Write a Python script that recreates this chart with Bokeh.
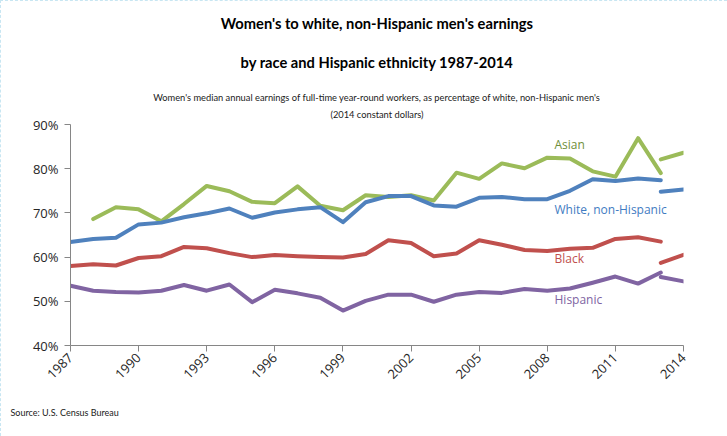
import math
from bokeh.plotting import figure
from bokeh.models import Label, FixedTicker, PrintfTickFormatter, Range1d, Title
from bokeh.embed import file_html
from bokeh.resources import INLINE

# ---- data ----
years = list(range(1987, 2014))            # 1987..2013 (old survey method)
years_new = [2013, 2014]                   # redesigned survey
asian = [None, 68.6, 71.3, 70.8, 68.1, 72.0, 76.1, 74.9, 72.5, 72.2, 76.0, 71.6, 70.6,
         74.0, 73.6, 74.0, 72.8, 79.1, 77.7, 81.2, 80.1, 82.5, 82.3, 79.4, 78.2, 86.9, 79.0]
white = [63.4, 64.1, 64.4, 67.4, 67.8, 69.0, 69.9, 71.0, 68.9, 70.1, 70.8, 71.3, 67.9,
         72.4, 73.8, 73.8, 71.7, 71.4, 73.4, 73.6, 73.1, 73.1, 75.0, 77.6, 77.2, 77.8, 77.4]
black = [58.0, 58.4, 58.1, 59.8, 60.2, 62.3, 62.0, 60.9, 60.0, 60.5, 60.2, 60.0, 59.9,
         60.7, 63.8, 63.2, 60.2, 60.8, 63.8, 62.8, 61.6, 61.4, 61.9, 62.1, 64.1, 64.5, 63.5]
hispanic = [53.5, 52.4, 52.1, 52.0, 52.4, 53.7, 52.4, 53.8, 49.8, 52.6, 51.8, 50.8, 47.9,
            50.1, 51.5, 51.5, 49.9, 51.5, 52.1, 51.9, 52.8, 52.4, 52.9, 54.2, 55.6, 54.0, 56.5]
asian_new = [82.1, 83.6]
white_new = [74.8, 75.3]
black_new = [58.7, 60.5]
hispanic_new = [55.5, 54.5]
series_names = ["Asian", "White, non-Hispanic", "Black", "Hispanic"]
x_ticks = list(range(1987, 2015, 3))
y_ticks = [40, 50, 60, 70, 80, 90]
title_lines = ["Women's to white, non-Hispanic men's earnings",
               "by race and Hispanic ethnicity 1987-2014"]
subtitle_lines = ["Women's median annual earnings of full-time year-round workers, as percentage of white, non-Hispanic men's",
                  "(2014 constant dollars)"]
source_text = "Source:  U.S. Census Bureau"

# ---- layout ----
W, H = 727, 436
FL, FR, FT, FB = 69, 682, 123, 346
X0, X1, Y0, Y1 = 1987, 2014, 40, 90

def dx(px):
    return X0 + (px - FL) * (X1 - X0) / (FR - FL)

def dy(py):
    return Y1 - (py - FT) * (Y1 - Y0) / (FB - FT)

p = figure(width=W, height=H, output_backend="svg", toolbar_location=None,
           x_range=Range1d(X0, X1), y_range=Range1d(Y0, Y1),
           min_border_left=FL, min_border_right=W - FR,
           min_border_top=FT, min_border_bottom=H - FB)
p.title = None
p.styles = {"border-top": "1px dashed #c8e6f2", "border-left": "1px dashed #c8e6f2"}
p.outline_line_color = None
p.xgrid.visible = False
p.ygrid.visible = False
p.background_fill_color = "white"
p.border_fill_color = "white"

FONT = "Open Sans"
NARROW = "Lato"
AX = "#868686"
for ax in (p.xaxis[0], p.yaxis[0]):
    ax.axis_line_color = AX
    ax.major_tick_line_color = AX
    ax.minor_tick_line_color = None
    ax.major_tick_in = 0
    ax.major_tick_out = 6
    ax.major_label_text_font = FONT
    ax.major_label_text_font_size = "13px"
    ax.major_label_text_color = "#262626"
p.xaxis.ticker = FixedTicker(ticks=x_ticks)
p.xaxis.major_label_orientation = math.pi / 4
p.xaxis.major_label_standoff = 4
p.yaxis.ticker = FixedTicker(ticks=y_ticks)
p.yaxis.formatter = PrintfTickFormatter(format="%d%%")
p.yaxis.major_label_standoff = 6

colors = {"Asian": "#9bbb59", "White, non-Hispanic": "#4f81bd",
          "Black": "#c0504d", "Hispanic": "#8064a2"}
text_colors = {"Asian": "#6f8f3a", "White, non-Hispanic": "#3f7cc2",
               "Black": "#c0504d", "Hispanic": "#8064a2"}

old = {"Asian": asian, "White, non-Hispanic": white, "Black": black, "Hispanic": hispanic}
new = {"Asian": asian_new, "White, non-Hispanic": white_new,
       "Black": black_new, "Hispanic": hispanic_new}

for name in series_names:
    xs = [x for x, v in zip(years, old[name]) if v is not None]
    ys = [v for v in old[name] if v is not None]
    p.line(xs, ys, line_color=colors[name], line_width=4, line_join="round", line_cap="round")
    p.line(years_new, new[name], line_color=colors[name], line_width=4,
           line_join="round", line_cap="round")

label_py = {"Asian": 143, "White, non-Hispanic": 209, "Black": 258, "Hispanic": 300}
for name in series_names:
    p.add_layout(Label(x=dx(553), y=dy(label_py[name]), text=name,
                       text_font=FONT, text_font_size="12px",
                       text_color=text_colors[name],
                       text_align="left", text_baseline="middle"))

CENTER_OFF = 308 - (FL + FR) / 2

def add_title(text, size, bold, standoff, place="above", align="center", offset=CENTER_OFF,
              color="#1a1a1a"):
    p.add_layout(Title(text=text, align=align, offset=offset, text_font=NARROW,
                       text_font_size=size, text_font_style="bold" if bold else "normal",
                       text_color=color, standoff=standoff), place)

# added from the frame outward
add_title(subtitle_lines[1], "9.3px", False, 9)
add_title(subtitle_lines[0], "9.3px", False, 0)
add_title(title_lines[1], "14.7px", True, 38, color="#000000")
add_title(title_lines[0], "14.7px", True, 0, color="#000000")
add_title(source_text, "9px", False, 39, place="below", align="left", offset=9 - FL)

open("out.html", "w").write(file_html(p, INLINE))
